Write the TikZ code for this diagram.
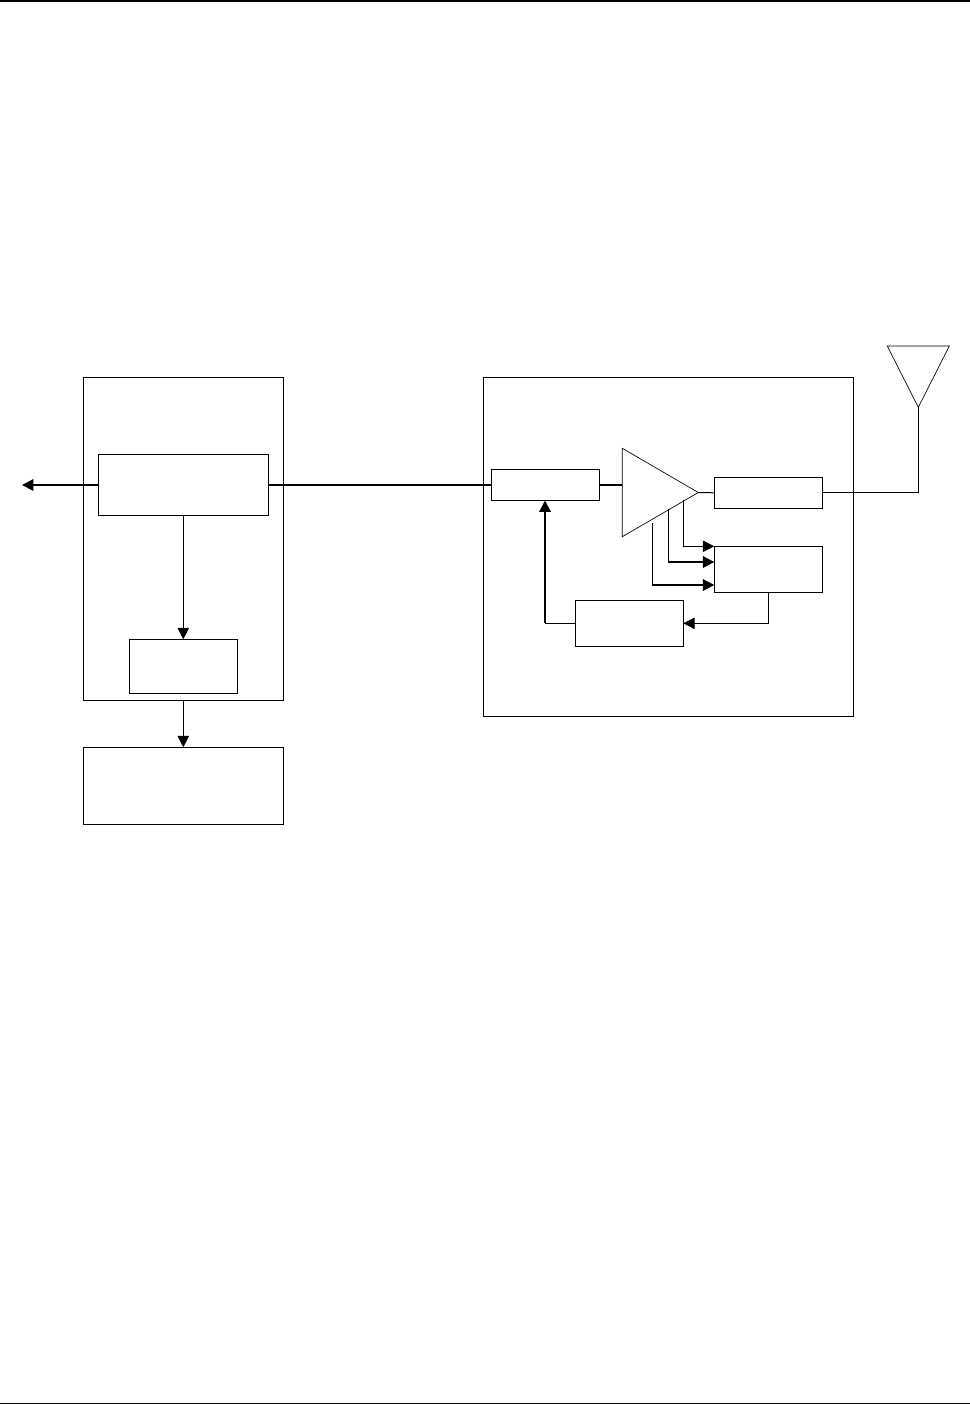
\documentclass[tikz,border=0pt]{standalone}
\usepackage{amsmath}
\usetikzlibrary{arrows.meta}

\tikzset{
  blockbox/.style 2 args={draw,line width=0.75pt,inner sep=0pt,outer sep=0pt,
    minimum width=#1*0.75pt,minimum height=#2*0.75pt},
  thinline/.style={line width=0.75pt},
  thickline/.style={line width=1.5pt},
  solidtip/.style={-{Triangle[length=8.5pt,width=8.5pt]}},
}

\begin{document}
\begin{tikzpicture}[x=0.75pt,y=0.75pt,yscale=-1,xscale=1]
        \useasboundingbox (0,0) rectangle (970,1404);

        %Page rules
        \coordinate (topleft) at (0,1);
        \coordinate (topright) at (970,1);
        \coordinate (botleft) at (0,1403.5);
        \coordinate (botright) at (970,1403.5);
        \draw [line width=1.5pt] (topleft) -- (topright) ;
        \draw [line width=1pt] (botleft) -- (botright) ;

        %Shape: left column
        \node (leftouter) [blockbox={200}{323}] at (183.3,538.8) {};
        \node (receiver) [blockbox={170}{61}] at (183.3,485) {};
        \node (memory) [blockbox={108}{54}] at (183.3,666.3) {};
        \node (lowerbox) [blockbox={200}{77}] at (183.3,785.8) {};

        %Shape: right column
        \node (rightouter) [blockbox={370}{339}] at (668.5,547) {};
        \node (mixer) [blockbox={108}{31}] at (545.5,485) {};
        \node (filterbox) [blockbox={108}{31}] at (768.3,492.8) {};
        \node (detector) [blockbox={108}{46}] at (768.3,569.3) {};
        \node (control) [blockbox={108}{46}] at (629.3,623.3) {};

        %Shape: amplifier
        \coordinate (ampa) at (622.3,448.3);
        \coordinate (ampb) at (622.3,536.7);
        \coordinate (ampout) at (698.3,492.5);
        \draw [line width=0.5pt] (ampa) -- (ampout) -- (ampb) -- cycle ;
        \coordinate (ampin) at (622.3,485);

        %Shape: antenna
        \coordinate (anta) at (887.3,346);
        \coordinate (antb) at (949.3,346);
        \coordinate (antfoot) at (918.3,407.3);
        \coordinate (antcorner) at (918.3,492.8);
        \draw [line width=0.5pt] (anta) -- (antb) -- (antfoot) -- cycle ;

        %Straight Lines: signal path
        \coordinate (outleft) at (22,485);
        \draw [thickline,solidtip] (receiver.west) -- (outleft) ;
        \draw [thickline] (receiver.east) -- (mixer.west) ;
        \draw [thickline] (mixer.east) -- (ampin) ;
        \draw [thinline] (ampout) -- (filterbox.west) ;
        \draw [thinline] (filterbox.east) -- (antcorner) -- (antfoot) ;

        %Straight Lines: left column
        \draw [thinline,solidtip] (receiver.south) -- (memory.north) ;
        \draw [thinline,solidtip] (leftouter.south) -- (lowerbox.north) ;

        %Straight Lines: amplifier taps
        \coordinate (tapa) at (683.3,500);
        \coordinate (tapb) at (668.3,508.5);
        \coordinate (tapc) at (652.3,523);
        \coordinate (tapaend) at (714.3,546.3);
        \coordinate (tapbend) at (714.3,562);
        \coordinate (tapcend) at (714.3,585);
        \draw [thinline,solidtip] (tapa) |- (tapaend) ;
        \draw [thinline] (tapb) -- (tapb |- tapbend) ;
        \draw [thickline,solidtip] (tapb |- tapbend) -- (tapbend) ;
        \draw [thinline] (tapc) -- (tapc |- tapcend) ;
        \draw [thickline,solidtip] (tapc |- tapcend) -- (tapcend) ;

        %Straight Lines: feedback
        \coordinate (fbcorner) at (545,623.3);
        \coordinate (fbtop) at (545,500.5);
        \draw [thinline,solidtip] (detector.south) |- (control.east) ;
        \draw [thinline] (control.west) -- (fbcorner) ;
        \draw [thickline,solidtip] (fbcorner) -- (fbtop) ;

\end{tikzpicture}
\end{document}
